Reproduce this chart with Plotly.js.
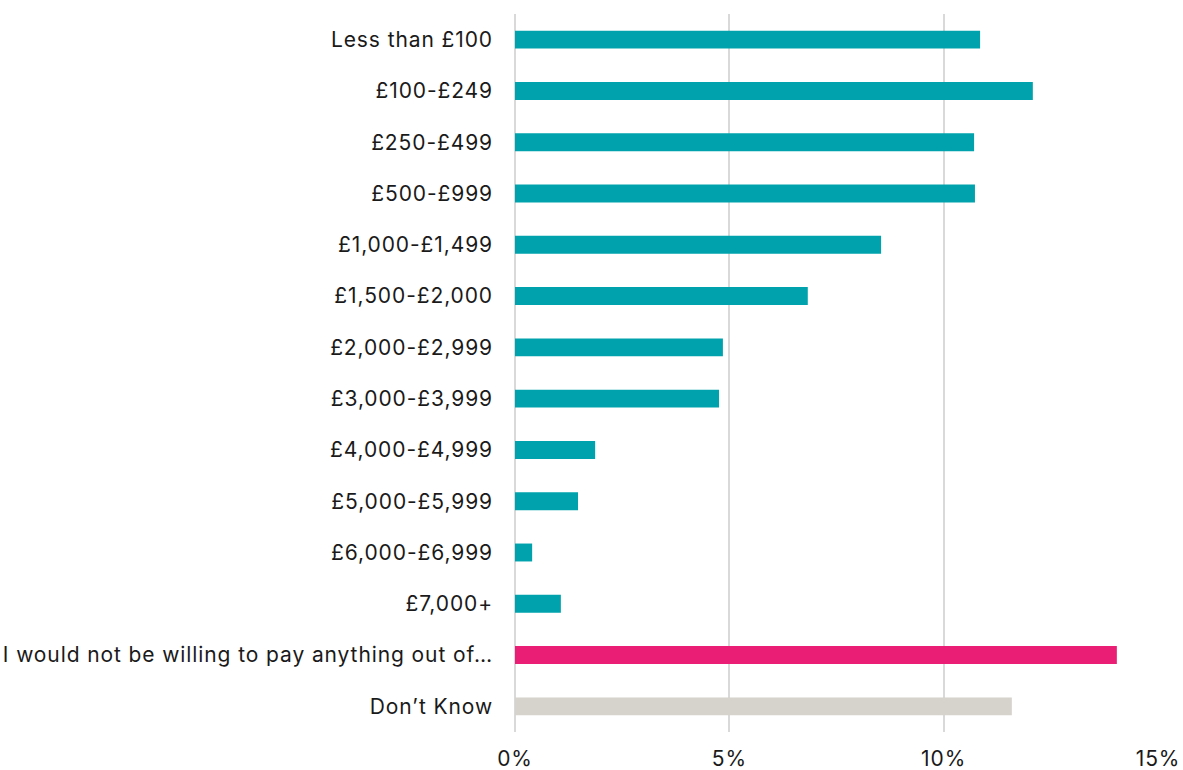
<!DOCTYPE html>
<html>
<head>
<meta charset="utf-8">
<script src="https://cdn.plot.ly/plotly-3.0.1.min.js"></script>
<style>
html,body{margin:0;padding:0;background:#fff;}
#chart{width:1183px;height:770px;}
#chart .ytick text, #chart .xtick text{letter-spacing:0.9px;}
</style>
</head>
<body>
<div id="chart"></div>
<script>
const categories = [
  "Less than £100", "£100-£249", "£250-£499", "£500-£999", "£1,000-£1,499",
  "£1,500-£2,000", "£2,000-£2,999", "£3,000-£3,999", "£4,000-£4,999",
  "£5,000-£5,999", "£6,000-£6,999", "£7,000+",
  "I would not be willing to pay anything out of…", "Don’t Know"
];
const values = [10.85, 12.08, 10.71, 10.73, 8.54, 6.83, 4.85, 4.76, 1.87, 1.47, 0.40, 1.07, 14.04, 11.59];
const barColors = ["#00A3AD","#00A3AD","#00A3AD","#00A3AD","#00A3AD","#00A3AD","#00A3AD","#00A3AD","#00A3AD","#00A3AD","#00A3AD","#00A3AD","#E91E74","#D6D2CC"];
const tickVals = [0, 5, 10, 15];
const tickText = ["0%", "5%", "10%", "15%"];

Plotly.newPlot('chart', [{
  type: 'bar',
  orientation: 'h',
  y: categories,
  x: values,
  marker: {color: barColors, line: {width: 0}},
  hoverinfo: 'skip'
}], {
  width: 1183, height: 770,
  margin: {l: 515, r: 25, t: 14, b: 38},
  paper_bgcolor: '#fff', plot_bgcolor: '#fff',
  bargap: 0.65,
  showlegend: false,
  font: {family: 'Inter, Roboto, sans-serif', size: 21, color: '#1a1a1a', weight: 400},
  xaxis: {
    range: [0, 15],
    tickvals: tickVals, ticktext: tickText,
    showgrid: true, gridcolor: '#D9D9D9', gridwidth: 2,
    zeroline: true, zerolinecolor: '#D9D9D9', zerolinewidth: 2,
    showline: false, ticks: '', ticklabelstandoff: 12,
    fixedrange: true
  },
  yaxis: {
    autorange: 'reversed',
    showgrid: false, zeroline: false, showline: false,
    ticks: '', ticklabelstandoff: 21,
    fixedrange: true
  }
}, {displayModeBar: false, staticPlot: true});
</script>
</body>
</html>
